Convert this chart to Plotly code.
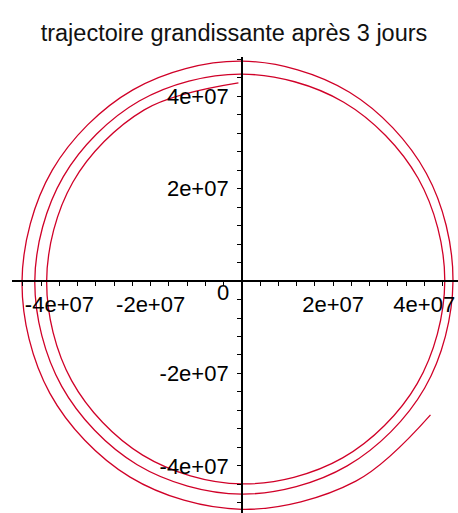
import numpy as np
import plotly.graph_objects as go

# Satellite trajectory sampled every twelfth of a turn (polar angle in degrees, radius in metres)
angle_deg = [91, 120, 150, 180, 210, 240, 270, 300, 330, 360, 390, 420, 450,
             480, 510, 540, 570, 600, 630, 660, 690, 720, 750, 780, 810, 840,
             870, 900, 930, 960, 990, 1020, 1045]
radius_m = [42.9e6, 42.8e6, 42.8e6, 42.8e6, 43.1e6, 43.5e6, 43.9e6, 44.2e6,
            44.4e6, 44.5e6, 44.6e6, 44.7e6, 44.8e6, 45.0e6, 45.2e6, 45.4e6,
            45.6e6, 45.9e6, 46.1e6, 46.2e6, 46.3e6, 46.3e6, 46.7e6, 47.2e6,
            47.6e6, 47.8e6, 48.0e6, 48.2e6, 48.6e6, 49.0e6, 49.4e6, 50.0e6,
            50.5e6]

# Axis ticks: minor marks every 4e6 m, labelled every 2e7 m
tick_vals = [v * 4e6 for v in range(-12, 13)]
label_vals = [-4e7, -2e7, 2e7, 4e7]
label_text = ["-4e+07", "-2e+07", "2e+07", "4e+07"]

title_text = "trajectoire grandissante après 3 jours"

theta = np.radians(angle_deg)
r = np.array(radius_m)
x = r * np.cos(theta)
y = r * np.sin(theta)

x_range = [-50.4e6, 47.4e6]
y_range = [-50.2e6, 48.5e6]

W, H = 458, 513
family = "Liberation Sans, Arial, sans-serif"
tick_font = dict(family=family, size=22, color="black")

fig = go.Figure()
fig.add_trace(go.Scatter(
    x=x, y=y, mode="lines",
    line=dict(color="#d00028", width=1.3, shape="spline", smoothing=1.0),
    hoverinfo="skip", showlegend=False,
))

ticktext_all = [label_text[label_vals.index(v)] if v in label_vals else "" for v in tick_vals]

axis_common = dict(
    showgrid=False, zeroline=False, anchor="free",
    showline=True, linecolor="black", linewidth=1.5,
    tickmode="array", tickvals=tick_vals, ticktext=ticktext_all,
    ticks="outside", ticklen=4, tickwidth=1, tickcolor="black",
    tickfont=tick_font,
)

fig.update_layout(
    width=W, height=H,
    margin=dict(l=12, r=0, t=57, b=0),
    paper_bgcolor="white", plot_bgcolor="white",
    font=tick_font,
    title=dict(text=title_text, x=234 / W, xanchor="center", y=1 - 33 / H,
               yanchor="middle", yref="container", xref="container",
               font=dict(family=family, size=23.5, color="#111")),
    xaxis=dict(range=x_range, position=-y_range[0] / (y_range[1] - y_range[0]),
               **axis_common),
    yaxis=dict(range=y_range, position=-x_range[0] / (x_range[1] - x_range[0]),
               ticklabelstandoff=4, **axis_common),
)

# Origin label, placed below-left of the crossing point
fig.add_annotation(x=0, y=0, xref="x", yref="y", text="0", showarrow=False,
                   xanchor="right", yanchor="top", xshift=-11, yshift=3,
                   font=tick_font)

fig.write_html("out.html")
